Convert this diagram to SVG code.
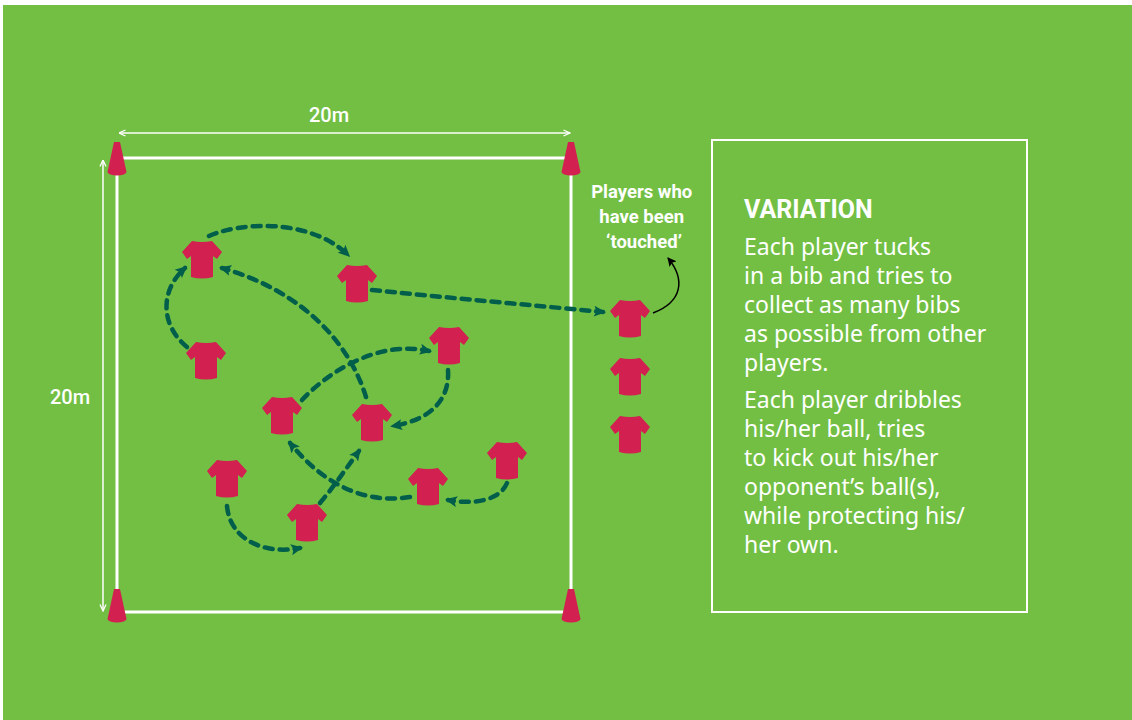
<svg xmlns="http://www.w3.org/2000/svg" width="1132" height="720" viewBox="0 0 1132 720">
<style>
.dash{fill:none;stroke:#005E4A;stroke-width:4.5;stroke-dasharray:8 7;stroke-linecap:round}
.shirt{fill:#D22050}
.cone{fill:#D22050}
.dim{fill:none;stroke:#fff;stroke-width:1.5}
.hd{font-family:Roboto,"Liberation Sans",sans-serif;fill:#fff}
.body{font-family:"Noto Sans","Open Sans",sans-serif;font-size:23px;fill:#fff}
</style>
<defs>
<path id="shirtShape" d="M-10,0 Q0,2 10,0 L20,11 L15,18 L11,15 L11,36 Q0,39 -11,36 L-11,15 L-15,18 L-20,11 Z"/>
<path id="coneShape" d="M-3,0 L3,0 L9.5,30 A9.5 3.5 0 0 1 -9.5,30 Z"/>
<marker id="ah" viewBox="0 0 12 12" refX="9" refY="6" markerWidth="12" markerHeight="12" markerUnits="userSpaceOnUse" orient="auto">
<path d="M0,0.5 L12,6 L0,11.5 L2.5,6 Z" fill="#005E4A"/>
</marker>
<marker id="wa" viewBox="0 0 8 8" refX="7.5" refY="4" markerWidth="8" markerHeight="8" markerUnits="userSpaceOnUse" orient="auto-start-reverse">
<path d="M1,1 L7.5,4 L1,7" fill="none" stroke="#fff" stroke-width="1.3"/>
</marker>
<marker id="ba" viewBox="0 0 10 10" refX="8" refY="5" markerWidth="10" markerHeight="10" markerUnits="userSpaceOnUse" orient="auto">
<path d="M0,0.5 L9,5 L0,9.5 L2,5 Z" fill="#000"/>
</marker>
</defs>
<rect x="3" y="5" width="1129" height="715" fill="#72BF44"/>

<g id="field">
<rect x="117" y="158" width="454" height="454" fill="none" stroke="#fff" stroke-width="3"/>
<line class="dim" x1="119" y1="133" x2="570" y2="133" marker-start="url(#wa)" marker-end="url(#wa)"/>
<line class="dim" x1="103" y1="160" x2="103" y2="611" marker-start="url(#wa)" marker-end="url(#wa)"/>
<text class="hd" x="329" y="122" font-size="20" font-weight="500" text-anchor="middle">20m</text>
<text class="hd" x="70" y="404" font-size="20" font-weight="500" text-anchor="middle">20m</text>
<use href="#coneShape" x="117" y="142" class="cone"/>
<use href="#coneShape" x="571" y="142" class="cone"/>
<use href="#coneShape" x="117" y="589" class="cone"/>
<use href="#coneShape" x="571" y="589" class="cone"/>
</g>

<g id="connectors">
<path class="dash" d="M209,236 C240,222 310,218 348,255" marker-end="url(#ah)"/>
<path class="dash" d="M187,347 C160,325 160,290 185,268" marker-end="url(#ah)"/>
<path class="dash" d="M366,397 C350,345 305,292 222,268" marker-end="url(#ah)"/>
<path class="dash" d="M372,290 C450,298 530,305 603,312" marker-end="url(#ah)"/>
<path class="dash" d="M302,400 C330,370 380,340 429,351" marker-end="url(#ah)"/>
<path class="dash" d="M448,370 C450,400 430,420 393,426" marker-end="url(#ah)"/>
<path class="dash" d="M410,497 C360,505 320,480 290,443" marker-end="url(#ah)"/>
<path class="dash" d="M507,483 C500,500 475,505 448,500" marker-end="url(#ah)"/>
<path class="dash" d="M320,503 C335,485 345,470 359,451" marker-end="url(#ah)"/>
<path class="dash" d="M227,506 C230,540 265,555 300,548" marker-end="url(#ah)"/>
<path d="M653,313 C682,302 686,280 668,258" fill="none" stroke="#000" stroke-width="1.5" marker-end="url(#ba)"/>
</g>

<g id="p1"><use href="#shirtShape" x="202" y="241" class="shirt"/></g>
<g id="p2"><use href="#shirtShape" x="357" y="265" class="shirt"/></g>
<g id="p3"><use href="#shirtShape" x="206" y="342" class="shirt"/></g>
<g id="p4"><use href="#shirtShape" x="449" y="327" class="shirt"/></g>
<g id="p5"><use href="#shirtShape" x="282" y="397" class="shirt"/></g>
<g id="p6"><use href="#shirtShape" x="372" y="404" class="shirt"/></g>
<g id="p7"><use href="#shirtShape" x="227" y="460" class="shirt"/></g>
<g id="p8"><use href="#shirtShape" x="307" y="504" class="shirt"/></g>
<g id="p9"><use href="#shirtShape" x="428" y="468" class="shirt"/></g>
<g id="p10"><use href="#shirtShape" x="507" y="442" class="shirt"/></g>
<g id="t1"><use href="#shirtShape" x="630" y="300" class="shirt"/></g>
<g id="t2"><use href="#shirtShape" x="630" y="358" class="shirt"/></g>
<g id="t3"><use href="#shirtShape" x="630" y="416" class="shirt"/></g>

<g id="touched-label">
<text class="hd" font-size="18.5" font-weight="700" text-anchor="middle">
<tspan x="644" y="198">Players who</tspan>
<tspan x="644" y="223">have been</tspan>
<tspan x="644" y="248">‘touched’</tspan>
</text>
</g>

<g id="variation">
<rect x="712" y="140" width="315" height="472" fill="none" stroke="#fff" stroke-width="2"/>
<text class="hd" x="744" y="218" font-size="25" font-weight="700">VARIATION</text>
<text class="body">
<tspan x="744" y="255">Each player tucks</tspan>
<tspan x="744" y="284">in a bib and tries to</tspan>
<tspan x="744" y="313">collect as many bibs</tspan>
<tspan x="744" y="342">as possible from other</tspan>
<tspan x="744" y="371">players.</tspan>
<tspan x="744" y="408">Each player dribbles</tspan>
<tspan x="744" y="437">his/her ball, tries</tspan>
<tspan x="744" y="466">to kick out his/her</tspan>
<tspan x="744" y="495">opponent’s ball(s),</tspan>
<tspan x="744" y="524">while protecting his/</tspan>
<tspan x="744" y="553">her own.</tspan>
</text>
</g>
</svg>
